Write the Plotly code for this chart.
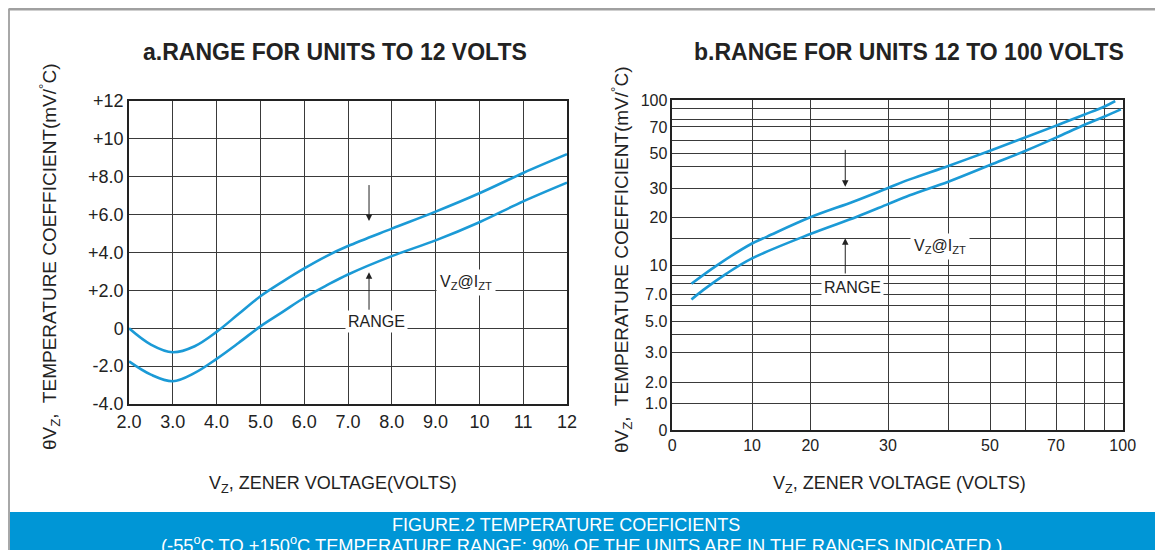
import numpy as np
import plotly.graph_objects as go

# ---- panel a: range for units to 12 volts ----
vz_a = [2.0, 2.5, 3.0, 3.5, 4.0, 4.5, 5.0, 5.5, 6.0, 6.5, 7.0, 8.0, 9.0, 10, 11, 12]
upper_a = [0.0, -0.86, -1.27, -0.95, -0.19, 0.75, 1.69, 2.45, 3.16, 3.8, 4.34, 5.26, 6.16, 7.13, 8.2, 9.19]
lower_a = [-1.75, -2.45, -2.8, -2.36, -1.62, -0.78, 0.1, 0.85, 1.61, 2.25, 2.84, 3.81, 4.64, 5.6, 6.7, 7.69]
xticks_a = [2, 3, 4, 5, 6, 7, 8, 9, 10, 11, 12]
xlabels_a = ["2.0", "3.0", "4.0", "5.0", "6.0", "7.0", "8.0", "9.0", "10", "11", "12"]
yticks_a = [-4, -2, 0, 2, 4, 6, 8, 10, 12]
ylabels_a = ["-4.0", "-2.0", "0", "+2.0", "+4.0", "+6.0", "+8.0", "+10", "+12"]

# ---- panel b: range for units 12 to 100 volts ----
vz_b_up = [2.4, 5.6, 10, 12.6, 20, 25.6, 30, 33.6, 40, 50, 60, 70, 80, 90, 96]
upper_b = [8.0, 10.0, 14.1, 15.5, 20, 25.4, 30, 34.1, 40.8, 52.2, 62.3, 71.6, 84, 91.9, 98.8]
vz_b_lo = [2.4, 3.9, 6.8, 10, 20, 26, 30, 33.6, 40, 50, 60, 70, 80, 90, 99]
lower_b = [6.5, 7.4, 9.2, 11.3, 16.1, 20.2, 24.5, 27.5, 33, 41.5, 52.2, 62, 72.5, 82.1, 89]

# the printed chart uses an irregular scale: grid values and where they sit (0..1 of the axis)
xgrid_b = [0, 10, 20, 30, 40, 50, 60, 70, 80, 90, 100]
xpos_b = [0, 0.177, 0.3064, 0.4789, 0.6128, 0.7054, 0.7846, 0.8519, 0.9141, 0.9585, 1.0]
xlabels_b = ["0", "10", "20", "30", "", "50", "", "70", "", "", "100"]
ygrid_b = [0, 1, 2, 3, 4, 5, 6, 7, 8, 9, 10, 15, 20, 30, 40, 50, 60, 70, 80, 90, 100]
ypos_b = [0, 0.0809, 0.1445, 0.2342, 0.29, 0.3303, 0.3788, 0.4121, 0.4433, 0.4676, 0.4991,
          0.5797, 0.6445, 0.7333, 0.797, 0.8373, 0.8779, 0.9182, 0.9424, 0.9748, 1.0]
ylabels_b = ["0", "1.0", "2.0", "3.0", "", "5.0", "", "7.0", "", "", "10", "", "20", "30", "",
             "50", "", "70", "", "", "100"]


def sx(v):
    return np.interp(v, xgrid_b, xpos_b)


def sy(v):
    return np.interp(v, ygrid_b, ypos_b)


W, H = 1163, 550
OFF = 8  # page body margin shifts the figure by 8px
FONT = "Liberation Sans, Arial, sans-serif"
BLUE = "#1B9AD6"
INK = "#222222"


def px(x):
    return (x - OFF) / W


def py(y):
    return 1 - (y - OFF) / H


fig = go.Figure()
for ys in (upper_a, lower_a):
    fig.add_trace(go.Scatter(x=vz_a, y=ys, mode="lines", line=dict(color=BLUE, width=2.6, shape="spline"),
                             xaxis="x", yaxis="y", showlegend=False))
for xs, ys in ((vz_b_up, upper_b), (vz_b_lo, lower_b)):
    fig.add_trace(go.Scatter(x=sx(xs), y=sy(ys), mode="lines", line=dict(color=BLUE, width=2.6, shape="spline"),
                             xaxis="x2", yaxis="y2", showlegend=False))

axis_common = dict(showgrid=True, gridcolor="#3a3a3a", gridwidth=1, zeroline=False, automargin=False,
                   showline=True, mirror=True, linecolor=INK, linewidth=1.5,
                   tickfont=dict(family=FONT, size=18, color=INK), ticks="")

fig.update_layout(
    width=W, height=H, margin=dict(l=0, r=0, t=0, b=0, autoexpand=False),
    paper_bgcolor="white", plot_bgcolor="white",
    xaxis=dict(axis_common, domain=[px(129), px(567)], range=[2, 12], tickmode="array",
               tickvals=xticks_a, ticktext=xlabels_a, ticklabelstandoff=1, anchor="y"),
    yaxis=dict(axis_common, domain=[py(404), py(101)], range=[-4, 12], tickmode="array",
               tickvals=yticks_a, ticktext=ylabels_a, ticklabelstandoff=0, anchor="x"),
    xaxis2=dict(axis_common, domain=[px(672.3), px(1122.7)], range=[0, 1], tickmode="array",
                tickvals=xpos_b, ticktext=xlabels_b, ticklabelstandoff=0, anchor="y2",
                tickfont=dict(family=FONT, size=16, color=INK)),
    yaxis2=dict(axis_common, domain=[py(430), py(100)], range=[0, 1], tickmode="array",
                tickvals=ypos_b, ticktext=ylabels_b, ticklabelstandoff=0, anchor="x2",
                tickfont=dict(family=FONT, size=16, color=INK)),
)

# frame and banner
fig.add_shape(type="line", xref="paper", yref="paper", x0=px(8.5), x1=px(8.5), y0=0, y1=py(9),
              line=dict(color="#a8a8a8", width=3))
fig.add_shape(type="line", xref="paper", yref="paper", x0=px(8.5), x1=1, y0=py(9), y1=py(9),
              line=dict(color="#a0a0a0", width=3))
fig.add_shape(type="rect", xref="paper", yref="paper", x0=px(10), x1=1, y0=0, y1=py(512),
              fillcolor="#0096D6", line=dict(width=0))

ann = []
txt = dict(family=FONT, color=INK)
ann.append(dict(text="<b>a.RANGE FOR UNITS TO 12 VOLTS</b>", x=px(335), y=py(52), font=dict(txt, size=23)))
ann.append(dict(text="<b>b.RANGE FOR UNITS 12 TO 100 VOLTS</b>", x=px(909), y=py(52), font=dict(txt, size=23)))
ytitle = "θV<sub>Z</sub>,  TEMPERATURE COEFFICIENT(mV/<sup>°</sup>C)"
ann.append(dict(text=ytitle, x=px(50), y=py(257), textangle=-90, font=dict(txt, size=19)))
ann.append(dict(text=ytitle, x=px(621), y=py(260), textangle=-90, font=dict(txt, size=19)))
ann.append(dict(text="V<sub>Z</sub>, ZENER VOLTAGE(VOLTS)", x=px(333), y=py(484), font=dict(txt, size=18)))
ann.append(dict(text="V<sub>Z</sub>, ZENER VOLTAGE (VOLTS)", x=px(899), y=py(484), font=dict(txt, size=18)))
ann.append(dict(text="FIGURE.2 TEMPERATURE COEFICIENTS", x=px(566), y=py(525),
                font=dict(family=FONT, size=18, color="white")))
ann.append(dict(text="(-55<sup>o</sup>C TO +150<sup>o</sup>C TEMPERATURE RANGE: 90% OF THE UNITS ARE IN THE RANGES INDICATED.)",
                x=px(581), y=py(544), font=dict(family=FONT, size=18.3, color="white")))
for a in ann:
    a.update(xref="paper", yref="paper", showarrow=False, xanchor="center", yanchor="middle")

# range labels on white boxes
lab = dict(family=FONT, size=16, color=INK)
ann.append(dict(text="RANGE", x=7.65, y=0.35, xref="x", yref="y", showarrow=False,
                bgcolor="white", borderpad=2, font=lab))
ann.append(dict(text="V<sub>Z</sub>@I<sub>ZT</sub>", x=9.69, y=2.4, xref="x", yref="y", showarrow=False,
                bgcolor="white", borderpad=3, font=lab))
ann.append(dict(text="RANGE", x=float(sx(25.4)), y=float(sy(7.6)), xref="x2", yref="y2", showarrow=False,
                bgcolor="white", borderpad=2, font=lab))
ann.append(dict(text="V<sub>Z</sub>@I<sub>ZT</sub>", x=float(sx(38.6)), y=float(sy(13.6)), xref="x2", yref="y2",
                showarrow=False, bgcolor="white", borderpad=3, font=lab))

# arrows
arrow = dict(text="", showarrow=True, arrowhead=2, arrowsize=1.3, arrowwidth=1, arrowcolor=INK)
ann.append(dict(arrow, x=7.48, y=5.66, ax=7.48, ay=7.64, xref="x", yref="y", axref="x", ayref="y"))
ann.append(dict(arrow, x=7.48, y=2.96, ax=7.48, ay=0.9, xref="x", yref="y", axref="x", ayref="y"))
ann.append(dict(arrow, x=float(sx(24.5)), y=float(sy(30.6)), ax=float(sx(24.5)), ay=float(sy(54)),
                xref="x2", yref="y2", axref="x2", ayref="y2"))
ann.append(dict(arrow, x=float(sx(24.5)), y=float(sy(15.1)), ax=float(sx(24.5)), ay=float(sy(9.07)),
                xref="x2", yref="y2", axref="x2", ayref="y2"))

fig.update_layout(annotations=ann)
fig.write_html("out.html")
